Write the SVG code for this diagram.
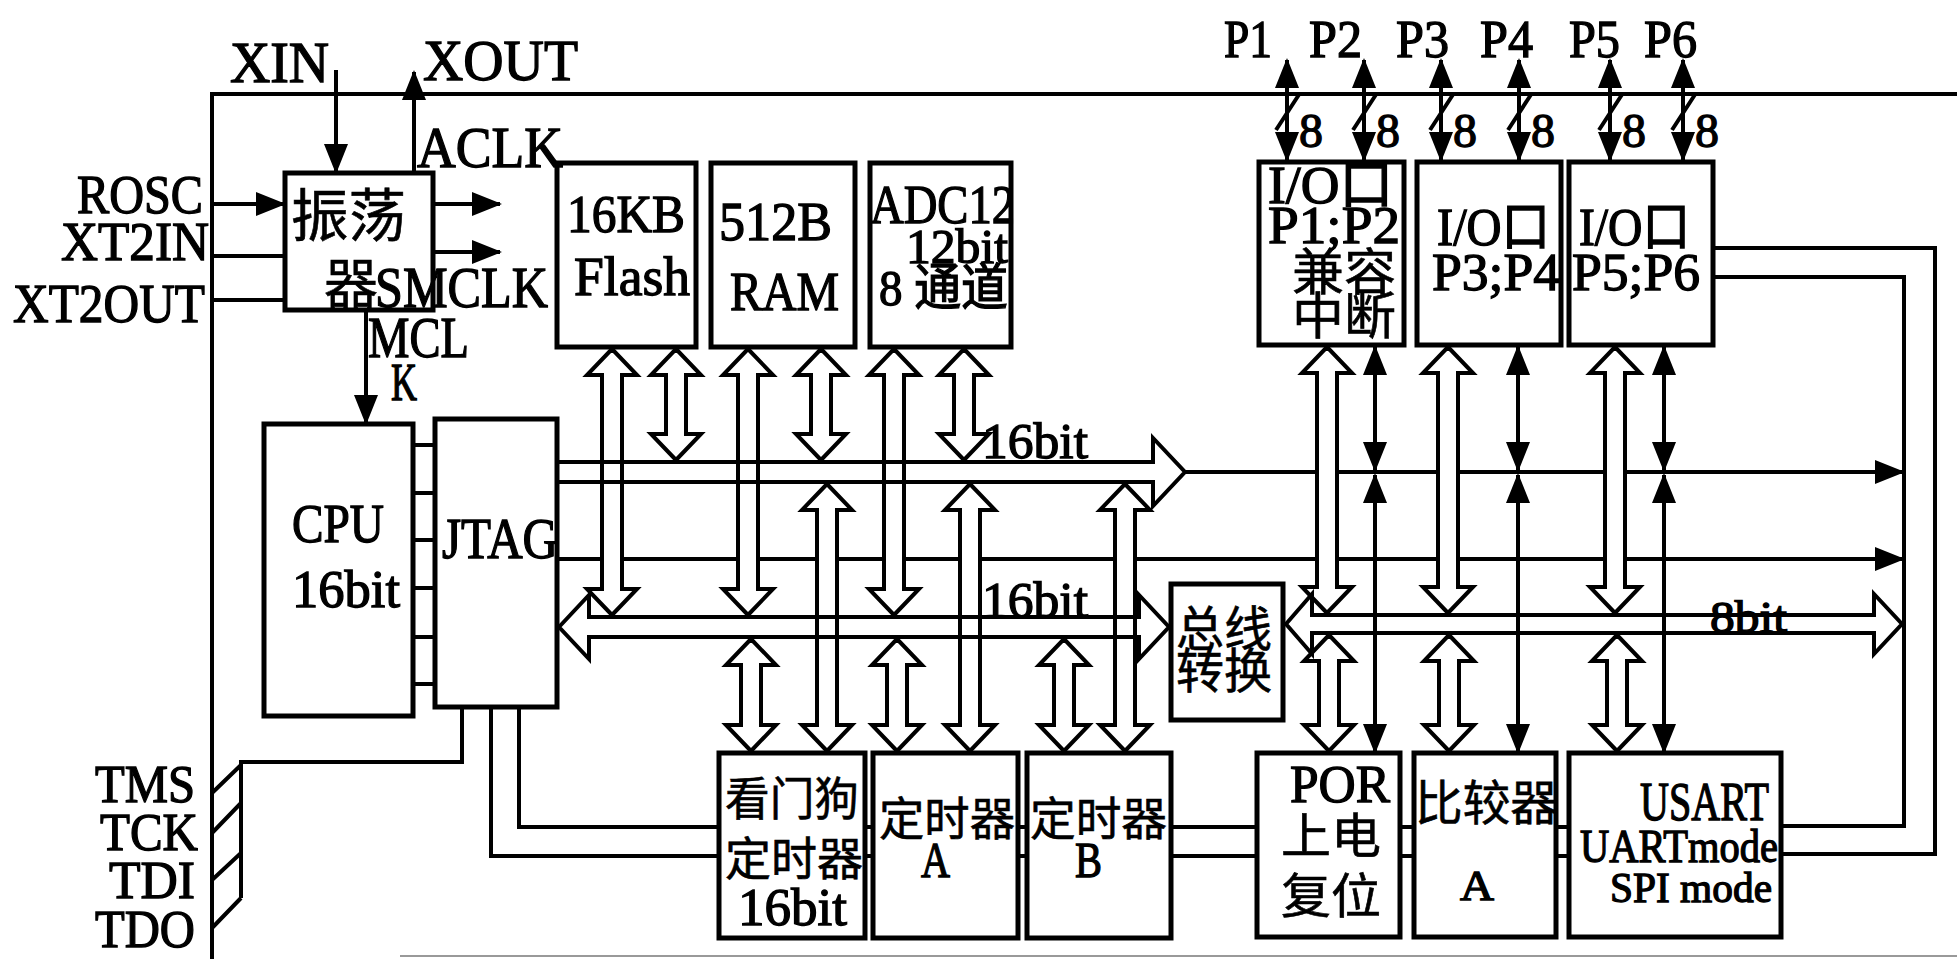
<svg xmlns="http://www.w3.org/2000/svg" width="1957" height="959" viewBox="0 0 1957 959">
<style>
.box{fill:none;stroke:#000;stroke-width:5}
.ln{fill:none;stroke:#000;stroke-width:4}
.hf{fill:#fff;stroke:none}
.ho{fill:none;stroke:#000;stroke-width:4;stroke-linejoin:miter}
.ar{fill:none;stroke:#000;stroke-width:4;marker-end:url(#ah)}
.ar2{fill:none;stroke:#000;stroke-width:4;marker-start:url(#ah);marker-end:url(#ah)}
.t{font-family:"Liberation Serif","Noto Sans CJK SC",serif;fill:#000;stroke:#000;stroke-width:1.3}
.c{font-family:"Noto Sans CJK SC",sans-serif;fill:#000;stroke:#000;stroke-width:0.6}
</style>
<defs>
<marker id="ah" markerUnits="userSpaceOnUse" markerWidth="30" markerHeight="24" viewBox="0 0 30 24" refX="28" refY="12" orient="auto-start-reverse">
<path d="M0,0 L30,12 L0,24 z" fill="#000"/>
</marker>
<path id="hollows" d="M612 349 L637 375 L622 375 L622 589 L637 589 L612 615 L587 589 L602 589 L602 375 L587 375 Z M676 349 L701 375 L686 375 L686 434 L701 434 L676 460 L651 434 L666 434 L666 375 L651 375 Z M748 349 L773 375 L758 375 L758 589 L773 589 L748 615 L723 589 L738 589 L738 375 L723 375 Z M821 349 L846 375 L831 375 L831 434 L846 434 L821 460 L796 434 L811 434 L811 375 L796 375 Z M894 349 L919 375 L904 375 L904 589 L919 589 L894 615 L869 589 L884 589 L884 375 L869 375 Z M964 349 L989 375 L974 375 L974 434 L989 434 L964 460 L939 434 L954 434 L954 375 L939 375 Z M827 484 L852 510 L837 510 L837 725 L852 725 L827 751 L802 725 L817 725 L817 510 L802 510 Z M970 484 L995 510 L980 510 L980 725 L995 725 L970 751 L945 725 L960 725 L960 510 L945 510 Z M1125 484 L1150 510 L1135 510 L1135 725 L1150 725 L1125 751 L1100 725 L1115 725 L1115 510 L1100 510 Z M751 639 L776 665 L761 665 L761 725 L776 725 L751 751 L726 725 L741 725 L741 665 L726 665 Z M897 639 L922 665 L907 665 L907 725 L922 725 L897 751 L872 725 L887 725 L887 665 L872 665 Z M1064 639 L1089 665 L1074 665 L1074 725 L1089 725 L1064 751 L1039 725 L1054 725 L1054 665 L1039 665 Z M1327 347 L1352 373 L1337 373 L1337 587 L1352 587 L1327 613 L1302 587 L1317 587 L1317 373 L1302 373 Z M1448 347 L1473 373 L1458 373 L1458 587 L1473 587 L1448 613 L1423 587 L1438 587 L1438 373 L1423 373 Z M1615 347 L1640 373 L1625 373 L1625 587 L1640 587 L1615 613 L1590 587 L1605 587 L1605 373 L1590 373 Z M1329 635 L1354 661 L1339 661 L1339 725 L1354 725 L1329 751 L1304 725 L1319 725 L1319 661 L1304 661 Z M1449 635 L1474 661 L1459 661 L1459 725 L1474 725 L1449 751 L1424 725 L1439 725 L1439 661 L1424 661 Z M1617 635 L1642 661 L1627 661 L1627 725 L1642 725 L1617 751 L1592 725 L1607 725 L1607 661 L1592 661 Z"/>
</defs>
<rect width="1957" height="959" fill="#fff"/>

<g id="frame">
<line class="ln" x1="212" y1="94" x2="1957" y2="94"/>
<line class="ln" x1="212" y1="92" x2="212" y2="959"/>
<line x1="400" y1="956" x2="1957" y2="956" stroke="#999" stroke-width="2"/>
</g>

<g id="connectors">
<line class="ar" x1="336" y1="70" x2="336" y2="172"/>
<line class="ar" x1="414" y1="173" x2="414" y2="72"/>
<line class="ar" x1="212" y1="204" x2="284" y2="204"/>
<line class="ln" x1="212" y1="256" x2="285" y2="256"/>
<line class="ln" x1="212" y1="300" x2="285" y2="300"/>
<line class="ar" x1="433" y1="204" x2="500" y2="204"/>
<line class="ar" x1="433" y1="252" x2="500" y2="252"/>
<line class="ar" x1="366" y1="310" x2="366" y2="423"/>
<line class="ar" x1="1185" y1="472" x2="1903" y2="472"/>
<line class="ar" x1="557" y1="559" x2="1903" y2="559"/>
<line class="ar2" x1="1375" y1="347" x2="1375" y2="470"/>
<line class="ar2" x1="1375" y1="475" x2="1375" y2="752"/>
<line class="ar2" x1="1518" y1="347" x2="1518" y2="470"/>
<line class="ar2" x1="1518" y1="475" x2="1518" y2="752"/>
<line class="ar2" x1="1664" y1="347" x2="1664" y2="470"/>
<line class="ar2" x1="1664" y1="475" x2="1664" y2="752"/>
<line class="ar2" x1="1287" y1="60" x2="1287" y2="160"/>
<line class="ar2" x1="1364" y1="60" x2="1364" y2="160"/>
<line class="ar2" x1="1441" y1="60" x2="1441" y2="160"/>
<line class="ar2" x1="1519" y1="60" x2="1519" y2="160"/>
<line class="ar2" x1="1610" y1="60" x2="1610" y2="160"/>
<line class="ar2" x1="1683" y1="60" x2="1683" y2="160"/>
<path class="ln" d="M1300 93 L1276 130 M1377 93 L1353 130 M1454 93 L1430 130 M1532 93 L1508 130 M1623 93 L1599 130 M1696 93 L1672 130"/>
<path class="ln" d="M413 445 H435 M413 493 H435 M413 540 H435 M413 588 H435 M413 637 H435 M413 684 H435"/>
<path class="ln" d="M462 707 V762 H241 V898 M241 765 L212 793 M241 803 L212 833 M241 853 L212 880 M241 898 L212 928"/>
<path class="ln" d="M519 707 V827 H719 M491 707 V856 H719 M865 827 H873 M865 856 H873 M1018 827 H1027 M1018 856 H1027 M1171 827 H1257 M1171 856 H1257 M1400 827 H1414 M1400 856 H1414 M1556 827 H1569 M1556 856 H1569"/>
<path class="ln" d="M1781 826 H1904 V277 H1713 M1781 854 H1935 V248 H1713"/>
<use href="#hollows" class="hf"/>
<path class="ho" d="M557 462 L1153 462 L1153 438 L1185 472 L1153 506 L1153 482 L557 482"/>
<path class="ho" d="M559 627 L589 595 L589 617 L1139 617 L1139 595 L1169 627 L1139 659 L1139 637 L589 637 L589 659 Z"/>
<path class="ho" d="M1286 624 L1312 594 L1312 615 L1874 615 L1874 594 L1902 624 L1874 654 L1874 633 L1312 633 L1312 654 Z"/>
<use href="#hollows" class="ho"/>
</g>

<g id="osc">
<rect class="box" x="285" y="173" width="148" height="137"/>
<text class="c" x="291" y="236" font-size="57" textLength="115" lengthAdjust="spacingAndGlyphs">振荡</text>
<text class="c" x="324" y="304" font-size="54">器</text>
</g>
<g id="flash">
<rect class="box" x="557" y="163" width="139" height="184"/>
<text class="t" x="567" y="232" font-size="52" textLength="118" lengthAdjust="spacingAndGlyphs">16KB</text>
<text class="t" x="574" y="295" font-size="54" textLength="116" lengthAdjust="spacingAndGlyphs">Flash</text>
</g>
<g id="ram">
<rect class="box" x="711" y="163" width="144" height="184"/>
<text class="t" x="719" y="240" font-size="54" textLength="113" lengthAdjust="spacingAndGlyphs">512B</text>
<text class="t" x="730" y="310" font-size="54" textLength="109" lengthAdjust="spacingAndGlyphs">RAM</text>
</g>
<g id="adc">
<rect class="box" x="870" y="163" width="141" height="184"/>
<text class="t" x="870" y="223" font-size="54" textLength="145" lengthAdjust="spacingAndGlyphs">ADC12</text>
<text class="t" x="906" y="263" font-size="48" textLength="102" lengthAdjust="spacingAndGlyphs">12bit</text>
<text class="t" x="879" y="305" font-size="50" textLength="129" lengthAdjust="spacingAndGlyphs">8 通道</text>
</g>
<g id="cpu">
<rect class="box" x="264" y="424" width="149" height="292"/>
<text class="t" x="292" y="542" font-size="54" textLength="92" lengthAdjust="spacingAndGlyphs">CPU</text>
<text class="t" x="292" y="607" font-size="52" textLength="108" lengthAdjust="spacingAndGlyphs">16bit</text>
</g>
<g id="jtag">
<rect class="box" x="435" y="419" width="122" height="288"/>
<text class="t" x="442" y="558" font-size="56" textLength="116" lengthAdjust="spacingAndGlyphs">JTAG</text>
</g>
<g id="io12">
<rect class="box" x="1259" y="162" width="145" height="183"/>
<text class="t" x="1268" y="203" font-size="52" textLength="125" lengthAdjust="spacingAndGlyphs">I/O口</text>
<text class="t" x="1268" y="243" font-size="52" textLength="132" lengthAdjust="spacingAndGlyphs">P1;P2</text>
<text class="c" x="1292" y="290" font-size="50" textLength="104" lengthAdjust="spacingAndGlyphs">兼容</text>
<text class="c" x="1292" y="334" font-size="50" textLength="104" lengthAdjust="spacingAndGlyphs">中断</text>
</g>
<g id="io34">
<rect class="box" x="1417" y="162" width="144" height="183"/>
<text class="t" x="1437" y="245" font-size="52" textLength="113" lengthAdjust="spacingAndGlyphs">I/O口</text>
<text class="t" x="1432" y="290" font-size="52" textLength="128" lengthAdjust="spacingAndGlyphs">P3;P4</text>
</g>
<g id="io56">
<rect class="box" x="1569" y="162" width="144" height="183"/>
<text class="t" x="1579" y="245" font-size="52" textLength="111" lengthAdjust="spacingAndGlyphs">I/O口</text>
<text class="t" x="1572" y="290" font-size="52" textLength="128" lengthAdjust="spacingAndGlyphs">P5;P6</text>
</g>
<g id="busconv">
<rect class="box" x="1171" y="584" width="112" height="136"/>
<text class="c" x="1176" y="646" font-size="48" textLength="96" lengthAdjust="spacingAndGlyphs">总线</text>
<text class="c" x="1176" y="688" font-size="48" textLength="96" lengthAdjust="spacingAndGlyphs">转换</text>
</g>
<g id="wdt">
<rect class="box" x="719" y="753" width="146" height="185"/>
<text class="c" x="725" y="815" font-size="46" textLength="134" lengthAdjust="spacingAndGlyphs">看门狗</text>
<text class="c" x="725" y="875" font-size="46" textLength="138" lengthAdjust="spacingAndGlyphs">定时器</text>
<text class="t" x="738" y="925" font-size="52" textLength="109" lengthAdjust="spacingAndGlyphs">16bit</text>
</g>
<g id="timerA">
<rect class="box" x="873" y="753" width="145" height="185"/>
<text class="c" x="879" y="835" font-size="46" textLength="136" lengthAdjust="spacingAndGlyphs">定时器</text>
<text class="t" x="921" y="877" font-size="50" textLength="29" lengthAdjust="spacingAndGlyphs">A</text>
</g>
<g id="timerB">
<rect class="box" x="1027" y="753" width="144" height="185"/>
<text class="c" x="1030" y="835" font-size="46" textLength="137" lengthAdjust="spacingAndGlyphs">定时器</text>
<text class="t" x="1075" y="877" font-size="50" textLength="27" lengthAdjust="spacingAndGlyphs">B</text>
</g>
<g id="por">
<rect class="box" x="1257" y="753" width="143" height="184"/>
<text class="t" x="1290" y="802" font-size="52" textLength="100" lengthAdjust="spacingAndGlyphs">POR</text>
<text class="c" x="1281" y="853" font-size="48" textLength="100" lengthAdjust="spacingAndGlyphs">上电</text>
<text class="c" x="1281" y="913" font-size="48" textLength="100" lengthAdjust="spacingAndGlyphs">复位</text>
</g>
<g id="comp">
<rect class="box" x="1414" y="753" width="142" height="184"/>
<text class="c" x="1415" y="820" font-size="48" textLength="143" lengthAdjust="spacingAndGlyphs">比较器</text>
<text class="t" x="1460" y="900" font-size="42" textLength="34" lengthAdjust="spacingAndGlyphs">A</text>
</g>
<g id="usart">
<rect class="box" x="1569" y="753" width="212" height="184"/>
<text class="t" x="1640" y="820" font-size="54" textLength="129" lengthAdjust="spacingAndGlyphs">USART</text>
<text class="t" x="1580" y="862" font-size="46" textLength="198" lengthAdjust="spacingAndGlyphs">UARTmode</text>
<text class="t" x="1610" y="902" font-size="42" textLength="162" lengthAdjust="spacingAndGlyphs">SPI mode</text>
</g>

<g id="labels">
<text class="t" x="230" y="82" font-size="56" textLength="99" lengthAdjust="spacingAndGlyphs">XIN</text>
<text class="t" x="423" y="80" font-size="58" textLength="155" lengthAdjust="spacingAndGlyphs">XOUT</text>
<text class="t" x="417" y="167" font-size="58" textLength="146" lengthAdjust="spacingAndGlyphs">ACLK</text>
<text class="t" x="77" y="213" font-size="54" textLength="126" lengthAdjust="spacingAndGlyphs">ROSC</text>
<text class="t" x="61" y="260" font-size="54" textLength="148" lengthAdjust="spacingAndGlyphs">XT2IN</text>
<text class="t" x="13" y="322" font-size="54" textLength="192" lengthAdjust="spacingAndGlyphs">XT2OUT</text>
<text class="t" x="375" y="307" font-size="58" textLength="173" lengthAdjust="spacingAndGlyphs">SMCLK</text>
<text class="t" x="368" y="357" font-size="56" textLength="101" lengthAdjust="spacingAndGlyphs">MCL</text>
<text class="t" x="391" y="400" font-size="52" textLength="26" lengthAdjust="spacingAndGlyphs">K</text>
<text class="t" x="982" y="458" font-size="50" textLength="106" lengthAdjust="spacingAndGlyphs">16bit</text>
<text class="t" x="982" y="617" font-size="50" textLength="106" lengthAdjust="spacingAndGlyphs">16bit</text>
<text class="t" x="1710" y="632" font-size="44" textLength="77" lengthAdjust="spacingAndGlyphs">8bit</text>
<text class="t" x="1224" y="57" font-size="52" textLength="48" lengthAdjust="spacingAndGlyphs">P1</text>
<text class="t" x="1309" y="57" font-size="52" textLength="53" lengthAdjust="spacingAndGlyphs">P2</text>
<text class="t" x="1396" y="57" font-size="52" textLength="53" lengthAdjust="spacingAndGlyphs">P3</text>
<text class="t" x="1480" y="57" font-size="52" textLength="53" lengthAdjust="spacingAndGlyphs">P4</text>
<text class="t" x="1569" y="57" font-size="52" textLength="51" lengthAdjust="spacingAndGlyphs">P5</text>
<text class="t" x="1644" y="57" font-size="52" textLength="53" lengthAdjust="spacingAndGlyphs">P6</text>
<text class="t" x="1299" y="147" font-size="48">8</text>
<text class="t" x="1376" y="147" font-size="48">8</text>
<text class="t" x="1453" y="147" font-size="48">8</text>
<text class="t" x="1531" y="147" font-size="48">8</text>
<text class="t" x="1622" y="147" font-size="48">8</text>
<text class="t" x="1695" y="147" font-size="48">8</text>
<text class="t" x="95" y="802" font-size="52" textLength="100" lengthAdjust="spacingAndGlyphs">TMS</text>
<text class="t" x="100" y="850" font-size="52" textLength="98" lengthAdjust="spacingAndGlyphs">TCK</text>
<text class="t" x="109" y="898" font-size="52" textLength="86" lengthAdjust="spacingAndGlyphs">TDI</text>
<text class="t" x="95" y="947" font-size="52" textLength="100" lengthAdjust="spacingAndGlyphs">TDO</text>
</g>
</svg>
